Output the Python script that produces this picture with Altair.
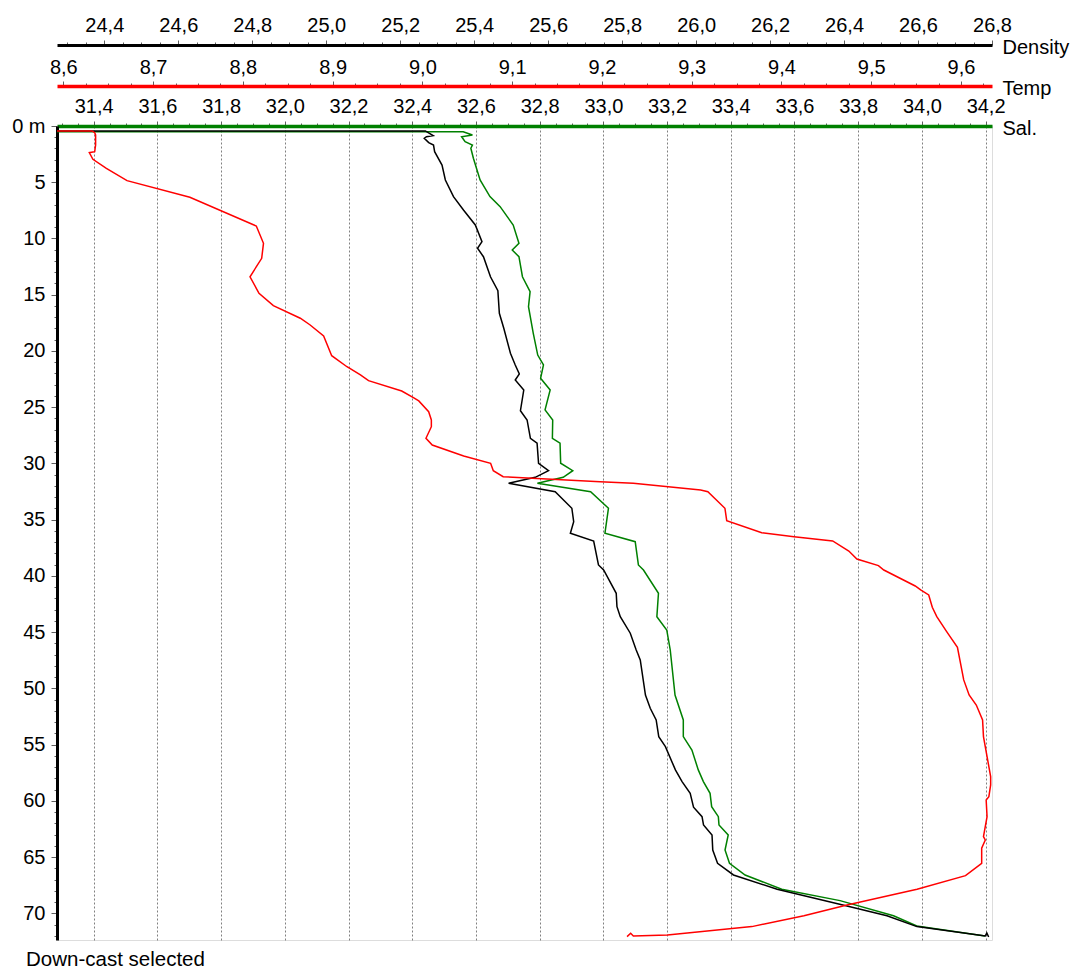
import altair as alt
import pandas as pd

# ---------------- data ----------------
temp_depth = [0.44, 0.44, 0.6, 0.8, 1.69, 2.28, 2.37, 2.96, 3.76, 4.86, 6.34, 8.89, 10.43, 11.76, 13.40,
              14.87, 15.97, 17.09, 17.69, 18.67, 20.42, 21.40, 22.13, 22.64, 23.56, 24.15, 24.44, 25.40,
              26.13, 26.73, 27.76, 28.36, 29.33, 29.98, 30.64, 31.17, 31.62, 31.76, 32.36, 32.51, 33.98,
              35.08, 36.15, 36.51, 36.89, 37.78, 38.49, 39.08, 39.47, 40.89, 41.24, 41.69, 42.78, 43.62,
              44.95, 46.34, 49.24, 50.58, 51.47, 52.80, 54.28, 57.84, 58.58, 59.62, 59.91, 61.40, 63.17,
              63.47, 64.20, 65.54, 66.64, 67.85, 69.24, 70.20, 71.17, 71.91, 72.00, 71.76, 72.06]
temp_vals = [8.593, 8.632, 8.635, 8.636, 8.636, 8.635, 8.629, 8.633, 8.648, 8.671, 8.741, 8.815, 8.823,
             8.821, 8.808, 8.818, 8.834, 8.864, 8.875, 8.890, 8.899, 8.916, 8.931, 8.940, 8.977, 8.990,
             8.996, 9.007, 9.010, 9.010, 9.004, 9.011, 9.046, 9.076, 9.079, 9.090, 9.198, 9.235, 9.310,
             9.318, 9.337, 9.339, 9.378, 9.414, 9.457, 9.475, 9.484, 9.508, 9.514, 9.549, 9.555, 9.564,
             9.568, 9.573, 9.584, 9.596, 9.603, 9.609, 9.617, 9.624, 9.625, 9.633, 9.633, 9.631, 9.628,
             9.629, 9.625, 9.627, 9.623, 9.623, 9.605, 9.551, 9.473, 9.425, 9.367, 9.273, 9.235, 9.232,
             9.228]

dens_depth = [0.44, 0.44, 0.86, 0.95, 1.09, 1.48, 1.69, 2.28, 3.47, 4.80, 6.28, 7.47, 8.80, 10.28, 10.87,
              11.62, 13.40, 14.64, 16.65, 17.98, 20.20, 21.24, 22.04, 22.58, 23.47, 25.31, 26.13, 27.76,
              28.20, 29.98, 30.64, 31.23, 31.76, 32.51, 33.98, 35.17, 36.20, 36.89, 39.02, 39.47, 41.54,
              42.73, 43.62, 45.09, 46.58, 47.47, 50.58, 51.76, 52.80, 54.28, 55.17, 57.24, 58.28, 59.32,
              60.56, 61.40, 62.13, 63.02, 64.36, 65.54, 66.58, 67.85, 69.33, 70.20, 71.17, 72.00, 71.73,
              72.09]
dens_vals = [24.272, 25.268, 25.289, 25.271, 25.265, 25.277, 25.290, 25.293, 25.313, 25.322, 25.344,
             25.371, 25.403, 25.421, 25.409, 25.425, 25.444, 25.464, 25.468, 25.480, 25.498, 25.511,
             25.522, 25.511, 25.534, 25.525, 25.543, 25.552, 25.570, 25.574, 25.601, 25.565, 25.493,
             25.619, 25.664, 25.669, 25.660, 25.723, 25.736, 25.750, 25.784, 25.786, 25.795, 25.822,
             25.838, 25.849, 25.863, 25.876, 25.892, 25.899, 25.917, 25.944, 25.962, 25.984, 25.993,
             26.016, 26.020, 26.043, 26.045, 26.058, 26.101, 26.219, 26.408, 26.516, 26.597, 26.782,
             26.786, 26.791]

sal_depth = [0.5, 0.51, 0.8, 0.95, 1.40, 1.69, 1.98, 2.87, 4.80, 6.28, 7.17, 8.80, 10.43, 11.02, 11.62,
             13.40, 14.73, 16.06, 18.43, 20.36, 21.24, 22.43, 23.47, 25.24, 26.13, 27.76, 28.20, 29.98,
             30.64, 31.23, 31.76, 32.51, 33.98, 36.20, 36.95, 39.02, 39.47, 41.54, 43.62, 44.80, 46.58,
             50.58, 52.80, 54.28, 55.47, 57.24, 58.28, 59.32, 60.51, 61.40, 62.13, 63.02, 64.36, 65.54,
             66.58, 67.85, 68.86, 70.20, 71.11, 72.00]
sal_vals = [31.285, 32.560, 32.589, 32.555, 32.566, 32.589, 32.584, 32.592, 32.613, 32.644, 32.676,
            32.717, 32.735, 32.714, 32.735, 32.746, 32.770, 32.765, 32.780, 32.794, 32.812, 32.803,
            32.833, 32.817, 32.841, 32.840, 32.864, 32.866, 32.904, 32.874, 32.793, 32.960, 33.016,
            33.005, 33.100, 33.110, 33.126, 33.173, 33.168, 33.199, 33.210, 33.225, 33.251, 33.251,
            33.278, 33.298, 33.314, 33.335, 33.340, 33.361, 33.363, 33.392, 33.382, 33.396, 33.445,
            33.560, 33.743, 33.911, 33.984, 34.198]

# tick positions (major + minor)
sal_ticks = [round(31.3 + 0.05 * i, 3) for i in range(59)]
temp_ticks = [round(8.6 + 0.025 * i, 4) for i in range(42)]
dens_ticks = [round(24.3 + 0.05 * i, 3) for i in range(51)]
depth_ticks = list(range(0, 73))

SAL_DOMAIN = [31.2848, 34.2201]
TEMP_DOMAIN = [8.593, 9.6345]
DENS_DOMAIN = [24.272, 26.8]
DEPTH_DOMAIN = [0, 72.36]

FONT = "Liberation Sans"
FS = 20

MAJOR_02 = "abs(datum.value*5 - round(datum.value*5)) < 0.000001"
MAJOR_01 = "abs(datum.value*10 - round(datum.value*10)) < 0.000001"


def top_axis(values, test, color, offset, title, dwidth, pad, grid=False):
    return alt.Axis(
        orient="top", offset=offset, values=values,
        labelExpr=f"({test}) ? replace(format(datum.value, '.1f'), '.', ',') : ''",
        labelFont=FONT, labelFontSize=FS, labelColor="black",
        labelFlush=False, labelOverlap=False, labelPadding=pad, labelBaseline="alphabetic",
        tickSize={"condition": {"test": test, "value": 5}, "value": 3},
        tickColor="#606060", tickWidth=1,
        domainColor=color, domainWidth=dwidth,
        grid=grid, gridColor="#808080", gridDash=[2, 2], gridWidth=1,
        gridOpacity={"condition": {"test": test, "value": 1}, "value": 0},
        title=title, titleX=945, titleY=8, titleAlign="left", titleBaseline="alphabetic",
        titleAngle=0, titleFont=FONT, titleFontSize=FS, titleFontWeight="normal",
        titleColor="black",
    )


y_enc = alt.Y(
    "depth:Q",
    scale=alt.Scale(domain=DEPTH_DOMAIN, reverse=True, nice=False, zero=False),
    axis=alt.Axis(
        orient="left", values=depth_ticks,
        labelExpr="datum.value == 0 ? '0 m' : (datum.value % 5 == 0 ? datum.label : '')",
        tickSize={"condition": {"test": "datum.value % 5 == 0", "value": 6}, "value": 3},
        tickColor="#606060", labelPadding=6, labelFont=FONT, labelFontSize=FS,
        labelColor="black", labelFlush=False, labelOverlap=False,
        domainColor="black", domainWidth=3, grid=False, title=None,
    ),
)

sal_df = pd.DataFrame({"depth": sal_depth, "val": sal_vals, "i": range(len(sal_vals))})
dens_df = pd.DataFrame({"depth": dens_depth, "val": dens_vals, "i": range(len(dens_vals))})
temp_df = pd.DataFrame({"depth": temp_depth, "val": temp_vals, "i": range(len(temp_vals))})

sal_line = alt.Chart(sal_df).mark_line(color="#008000", strokeWidth=1.5, clip=True).encode(
    x=alt.X("val:Q", scale=alt.Scale(domain=SAL_DOMAIN, nice=False, zero=False),
            axis=top_axis(sal_ticks, MAJOR_02, "#008000", 0, "Sal.", 3.5, 9, grid=True)),
    y=y_enc,
    order="i:Q",
)

dens_line = alt.Chart(dens_df).mark_line(color="#000000", strokeWidth=1.5, clip=True).encode(
    x=alt.X("val:Q", scale=alt.Scale(domain=DENS_DOMAIN, nice=False, zero=False),
            axis=top_axis(dens_ticks, MAJOR_02, "#000000", 81, "Density", 3, 9)),
    y=y_enc,
    order="i:Q",
)

temp_line = alt.Chart(temp_df).mark_line(color="#FF0000", strokeWidth=1.5, clip=True).encode(
    x=alt.X("val:Q", scale=alt.Scale(domain=TEMP_DOMAIN, nice=False, zero=False),
            axis=top_axis(temp_ticks, MAJOR_01, "#FF0000", 40, "Temp", 3.5, 8)),
    y=y_enc,
    order="i:Q",
)

chart = (
    alt.layer(sal_line, dens_line, temp_line)
    .resolve_scale(x="independent")
    .resolve_axis(x="independent")
    .properties(
        width=935,
        height=814,
        autosize=alt.AutoSizeParams(type="none"),
        padding={"left": 57, "top": 126, "right": 80, "bottom": 31},
        title=alt.TitleParams(
            "Down-cast selected", orient="bottom", anchor="start", frame="group",
            dx=-31, offset=20, baseline="alphabetic", font=FONT, fontSize=20.5,
            fontWeight="normal", color="black",
        ),
    )
    .configure_view(stroke="black", strokeWidth=2)
    .configure(background="white")
)

chart.save("out.html", embed_options={"renderer": "svg", "actions": False})
